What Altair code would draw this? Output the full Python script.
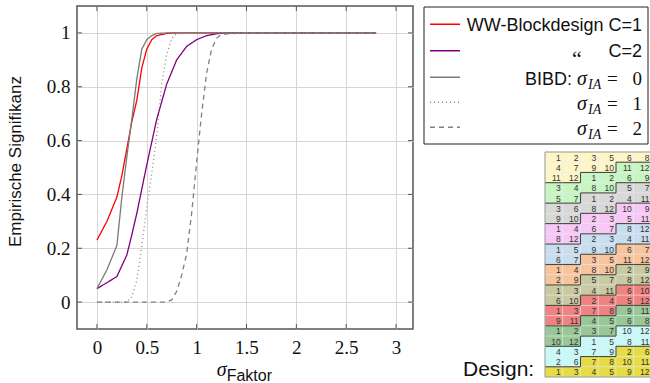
import altair as alt
import pandas as pd

# ---------------- curve data ----------------
series_names = ["WW C=1", "WW C=2", "BIBD s=0", "BIBD s=1", "BIBD s=2"]

c1_x = [0, 0.1, 0.2, 0.25, 0.3, 0.35, 0.4, 0.45, 0.5, 0.55, 0.6, 0.7, 0.8, 1.0, 1.5, 2.0, 2.5, 2.8]
c1_y = [0.23, 0.30, 0.39, 0.47, 0.57, 0.67, 0.75, 0.87, 0.94, 0.975, 0.99, 0.998, 1, 1, 1, 1, 1, 1]

c2_x = [0, 0.1, 0.2, 0.3, 0.35, 0.4, 0.45, 0.5, 0.6, 0.7, 0.8, 0.9, 1.0, 1.1, 1.2, 1.3, 1.5, 2.0, 2.5, 2.8]
c2_y = [0.05, 0.072, 0.095, 0.175, 0.25, 0.33, 0.42, 0.51, 0.68, 0.81, 0.90, 0.95, 0.975, 0.99, 0.997, 1, 1, 1, 1, 1]

b0_x = [0, 0.1, 0.2, 0.25, 0.3, 0.35, 0.4, 0.45, 0.5, 0.55, 0.6, 0.7, 1.0, 1.5, 2.0, 2.5, 2.8]
b0_y = [0.05, 0.12, 0.21, 0.39, 0.54, 0.68, 0.83, 0.94, 0.975, 0.99, 0.998, 1, 1, 1, 1, 1, 1]

b1_x = [0, 0.1, 0.2, 0.3, 0.35, 0.4, 0.45, 0.5, 0.55, 0.6, 0.65, 0.7, 0.75, 0.8, 1.0, 1.5, 2.0, 2.5, 2.8]
b1_y = [0, 0, 0, 0, 0.02, 0.08, 0.21, 0.35, 0.48, 0.62, 0.81, 0.92, 0.98, 0.997, 1, 1, 1, 1, 1]

b2_x = [0, 0.2, 0.4, 0.6, 0.7, 0.75, 0.8, 0.85, 0.9, 0.95, 1.0, 1.05, 1.1, 1.15, 1.2, 1.25, 1.5, 2.0, 2.5, 2.8]
b2_y = [0, 0, 0, 0, 0, 0.008, 0.04, 0.10, 0.18, 0.33, 0.52, 0.70, 0.85, 0.94, 0.98, 0.995, 1, 1, 1, 1]

x_ticks = [0, 0.5, 1, 1.5, 2, 2.5, 3]
y_ticks = [0, 0.2, 0.4, 0.6, 0.8, 1]

# ---------------- design table data ----------------
design_rows = [
    [1, 2, 3, 5, 6, 8],
    [4, 7, 9, 10, 11, 12],
    [11, 12, 1, 2, 6, 9],
    [3, 4, 8, 10, 5, 7],
    [5, 7, 1, 2, 4, 11],
    [3, 6, 8, 12, 10, 9],
    [9, 10, 2, 3, 5, 11],
    [1, 4, 6, 7, 8, 12],
    [8, 12, 2, 3, 4, 11],
    [1, 5, 9, 10, 6, 7],
    [6, 7, 3, 5, 11, 12],
    [1, 4, 8, 10, 2, 9],
    [2, 9, 5, 7, 8, 12],
    [1, 3, 4, 11, 6, 10],
    [6, 10, 2, 4, 5, 12],
    [1, 3, 7, 8, 9, 11],
    [9, 11, 4, 5, 6, 8],
    [1, 2, 3, 7, 10, 12],
    [10, 12, 1, 5, 8, 11],
    [4, 3, 7, 9, 2, 6],
    [2, 6, 7, 8, 10, 11],
    [1, 3, 4, 5, 9, 12],
]
design_groups = [
    [1, 1, 1, 1, 1, 1],
    [1, 1, 1, 1, 2, 2],
    [1, 1, 2, 2, 2, 2],
    [2, 2, 2, 2, 3, 3],
    [2, 2, 3, 3, 3, 3],
    [3, 3, 3, 3, 4, 4],
    [3, 3, 4, 4, 4, 4],
    [4, 4, 4, 4, 5, 5],
    [4, 4, 5, 5, 5, 5],
    [5, 5, 5, 5, 6, 6],
    [5, 5, 6, 6, 6, 6],
    [6, 6, 6, 6, 7, 7],
    [6, 6, 7, 7, 7, 7],
    [7, 7, 7, 7, 8, 8],
    [7, 7, 8, 8, 8, 8],
    [8, 8, 8, 8, 9, 9],
    [8, 8, 9, 9, 9, 9],
    [9, 9, 9, 9, 10, 10],
    [9, 9, 10, 10, 10, 10],
    [10, 10, 10, 10, 11, 11],
    [10, 10, 11, 11, 11, 11],
    [11, 11, 11, 11, 11, 11],
]

# ---------------- styles ----------------
series_colors = ["#ff0000", "#800080", "#7a7a7a", "#8a8a8a", "#808080"]
series_dash = [[1, 0], [1, 0], [1, 0], [1, 3], [5, 4]]
group_palette = ["#fff6c8", "#c8f5c4", "#d8d8d8", "#f7c8f7", "#c8ddf0", "#f8c49e",
                 "#c9c9a2", "#f08282", "#98c898", "#c8f8f8", "#e6dc48"]

W, H = 336, 323
SERIF = "Liberation Serif"
SANS = "Liberation Sans"

# ---------------- build frames ----------------
recs = []
for name, xs, ys in zip(series_names, [c1_x, c2_x, b0_x, b1_x, b2_x], [c1_y, c2_y, b0_y, b1_y, b2_y]):
    for i, (a, b) in enumerate(zip(xs, ys)):
        recs.append({"series": name, "x": a, "y": b, "o": i})
df = pd.DataFrame(recs)

xsc = alt.Scale(domain=[-0.2, 3.17], nice=False, zero=False)
ysc = alt.Scale(domain=[-0.1, 1.1], nice=False, zero=False)

x_axis = alt.Axis(values=x_ticks, format="~g", grid=True, gridColor="#d6d6d6", ticks=False, domain=False,
                  labelFont=SERIF, labelFontSize=19, labelColor="#111", labelPadding=9, title=None)
y_axis = alt.Axis(values=y_ticks, format="~g", grid=True, gridColor="#d6d6d6", ticks=False, domain=False,
                  labelFont=SERIF, labelFontSize=19, labelColor="#111", labelPadding=7, title=None)

lines = alt.Chart(df).mark_line(strokeWidth=1.3).encode(
    x=alt.X("x:Q", scale=xsc, axis=x_axis),
    y=alt.Y("y:Q", scale=ysc, axis=y_axis),
    color=alt.Color("series:N", scale=alt.Scale(domain=series_names, range=series_colors), legend=None),
    strokeDash=alt.StrokeDash("series:N", scale=alt.Scale(domain=series_names, range=series_dash), legend=None),
    order="o:Q",
)

xt = pd.DataFrame({"x": x_ticks})
yt = pd.DataFrame({"y": y_ticks})
tick_col = "#555"
xt_bot = alt.Chart(xt).mark_rule(color=tick_col).encode(x=alt.X("x:Q", scale=xsc, axis=x_axis), y=alt.value(H), y2=alt.value(H - 5))
xt_top = alt.Chart(xt).mark_rule(color=tick_col).encode(x=alt.X("x:Q", scale=xsc, axis=x_axis), y=alt.value(0), y2=alt.value(5))
yt_l = alt.Chart(yt).mark_rule(color=tick_col).encode(y=alt.Y("y:Q", scale=ysc, axis=y_axis), x=alt.value(0), x2=alt.value(5))
yt_r = alt.Chart(yt).mark_rule(color=tick_col).encode(y=alt.Y("y:Q", scale=ysc, axis=y_axis), x=alt.value(W), x2=alt.value(W - 5))

main = alt.layer(lines, xt_bot, xt_top, yt_l, yt_r)

# ---------------- design table ----------------
cells = []
for r, (vals, grps) in enumerate(zip(design_rows, design_groups)):
    for c, (v, g) in enumerate(zip(vals, grps)):
        cells.append({"r0": r, "r1": r + 1, "rm": r + 0.5, "c0": c, "c1": c + 1, "t": str(v), "g": g})
cdf = pd.DataFrame(cells)

segs = []
nr, nc = len(design_groups), len(design_groups[0])
for r in range(nr):
    for c in range(nc):
        g = design_groups[r][c]
        if r + 1 < nr and design_groups[r + 1][c] != g:
            segs.append({"xa": c, "xb": c + 1, "ya": r + 1, "yb": r + 1})
        if c + 1 < nc and design_groups[r][c + 1] != g:
            segs.append({"xa": c + 1, "xb": c + 1, "ya": r, "yb": r + 1})
sdf = pd.DataFrame(segs)

txs = alt.Scale(domain=[0, 6], range=[468, 574.5], nice=False, zero=False)
tys = alt.Scale(domain=[0, 22], range=[146, 371], nice=False, zero=False)
grp_ids = list(range(1, 12))

cell_rect = alt.Chart(cdf).mark_rect(stroke="#e8e8e8", strokeWidth=0.4).encode(
    x=alt.X("c0:Q", scale=txs, axis=None), x2="c1:Q",
    y=alt.Y("r0:Q", scale=tys, axis=None), y2="r1:Q",
    color=alt.Color("g:N", scale=alt.Scale(domain=grp_ids, range=group_palette), legend=None),
)
cell_text = alt.Chart(cdf).mark_text(align="right", baseline="middle", dx=-2, dy=0.5, font=SANS,
                                     fontSize=8.5, color="#333").encode(
    x=alt.X("c1:Q", scale=txs, axis=None), y=alt.Y("rm:Q", scale=tys, axis=None), text="t:N")
cell_border = alt.Chart(sdf).mark_rule(color="#4a4a3c", strokeWidth=1.1).encode(
    x=alt.X("xa:Q", scale=txs, axis=None), x2="xb:Q",
    y=alt.Y("ya:Q", scale=tys, axis=None), y2="yb:Q")
outer = alt.Chart(pd.DataFrame({"a": [0], "b": [6], "c": [0], "d": [22]})).mark_rect(
    fill=None, stroke="#999", strokeWidth=1).encode(
    x=alt.X("a:Q", scale=txs, axis=None), x2="b:Q", y=alt.Y("c:Q", scale=tys, axis=None), y2="d:Q")

table = alt.layer(cell_rect, cell_text, cell_border, outer)

# ---------------- annotations: legend box and titles ----------------
dummy = pd.DataFrame({"k": [0]})


def txt(s, x, y, size, font, align="left", style="normal", angle=None, baseline="alphabetic"):
    kw = dict(text=s, font=font, fontSize=size, align=align, baseline=baseline, fontStyle=style, color="#111")
    if angle is not None:
        kw["angle"] = angle
    return alt.Chart(dummy).mark_text(**kw).encode(x=alt.value(x), y=alt.value(y))


ann = [
    alt.Chart(dummy).mark_rect(fill="white", stroke="#222", strokeWidth=1).encode(
        x=alt.value(347), x2=alt.value(571), y=alt.value(1), y2=alt.value(138))
]
leg_y = [18.3, 44.7, 71.3, 96.3, 121.3]
for i in range(5):
    ann.append(alt.Chart(dummy).mark_rule(color=series_colors[i], strokeDash=series_dash[i], strokeWidth=1.5).encode(
        x=alt.value(353), x2=alt.value(383), y=alt.value(leg_y[i])))

ann += [
    txt("WW-Blockdesign C=1", 565, 24.7, 18, SANS, align="right"),
    txt("\u201c", 495, 60, 22, SERIF),
    txt("C=2", 565, 51.3, 18, SANS, align="right"),
    txt("BIBD:", 495, 79, 18, SANS, align="right"),
]
for b, d in zip([79, 104, 129], ["0", "1", "2"]):
    ann += [
        txt("\u03c3", 500, b, 20, SERIF, style="italic"),
        txt("IA", 511, b + 4, 14, SERIF, style="italic"),
        txt("=", 530, b, 19, SERIF),
        txt(d, 565, b, 19, SERIF, align="right"),
    ]

ann += [
    txt("Empirische Signifikanz", -61, 155.5, 17, SANS, align="center", angle=270, baseline="middle"),
    txt("\u03c3", 139.7, 370, 20, SERIF, style="italic"),
    txt("Faktor", 149.7, 374.5, 16, SANS),
    txt("Design:", 386, 370, 21, SANS),
]

chart = alt.layer(main, table, *ann).resolve_scale(
    x="independent", y="independent", color="independent"
).properties(
    width=W, height=H,
    autosize=alt.AutoSizeParams(type="none"),
    padding={"left": 77, "top": 6, "right": 237, "bottom": 54},
).configure_view(stroke="#555", strokeWidth=1.5)

chart.save("out.html", embed_options={"renderer": "svg", "actions": False})
